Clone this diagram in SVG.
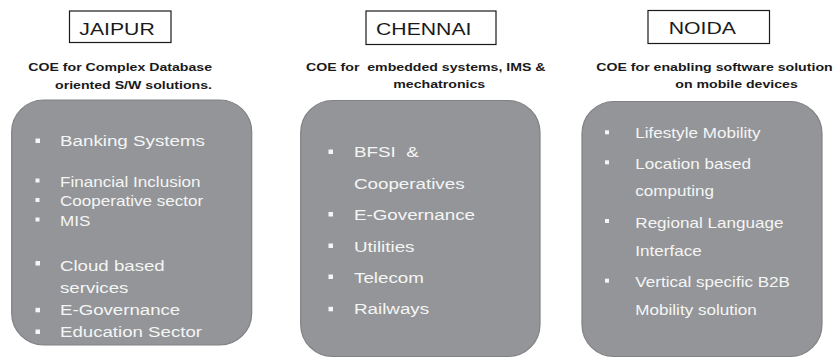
<svg xmlns="http://www.w3.org/2000/svg" width="837" height="358" viewBox="0 0 837 358">
<style>
text{font-family:"Liberation Sans",Arial,sans-serif;white-space:pre}
.title{font-size:17.4px;fill:#1a1a1a}
.tbox{fill:#fff;stroke:#1a1a1a;stroke-width:1.2}
.sub{font-size:11.6px;font-weight:bold;fill:#1a1a1a}
.panel{fill:#939598;stroke:#808184;stroke-width:1.2}
.it{fill:#f5f5f5}
.bul{fill:#f5f5f5}
</style>
<rect width="837" height="358" fill="#fff"/>
<g id="jaipur">
<rect class="tbox" x="69.5" y="11" width="101.5" height="31.5"/>
<text class="title" transform="translate(79.3 35) scale(1.22 1)">JAIPUR</text>
<text class="sub" transform="translate(28.3 71) scale(1.22 1)">COE for Complex Database</text>
<text class="sub" transform="translate(55 89) scale(1.22 1)">oriented S/W solutions.</text>
<rect class="panel" x="11.7" y="100" width="240" height="245" rx="32" ry="32"/>
<g class="it" style="font-size:15.4px">
<text transform="translate(60 146) scale(1.22 1)">Banking Systems</text>
</g>
<g class="it" style="font-size:14px">
<text transform="translate(60 186.5) scale(1.22 1)">Financial Inclusion</text>
<text transform="translate(60 206) scale(1.22 1)">Cooperative sector</text>
<text transform="translate(60 225.5) scale(1.22 1)">MIS</text>
</g>
<g class="it" style="font-size:15.3px">
<text transform="translate(60 270.5) scale(1.22 1)">Cloud based</text>
<text transform="translate(60 292.5) scale(1.22 1)">services</text>
<text transform="translate(60 315) scale(1.22 1)">E-Governance</text>
<text transform="translate(60 336.7) scale(1.22 1)">Education Sector</text>
</g>
<rect class="bul" x="35.5" y="138.5" width="4.5" height="4.5"/>
<rect class="bul" x="35.5" y="178.5" width="4" height="4"/>
<rect class="bul" x="35.5" y="198" width="4" height="4"/>
<rect class="bul" x="35.5" y="217.5" width="4" height="4"/>
<rect class="bul" x="35.5" y="261" width="4.5" height="4.5"/>
<rect class="bul" x="35.5" y="307.8" width="4.5" height="4.5"/>
<rect class="bul" x="35.5" y="329.5" width="4.5" height="4.5"/>
</g>
<g id="chennai">
<rect class="tbox" x="366" y="11" width="130" height="33.5"/>
<text class="title" transform="translate(376 35) scale(1.22 1)">CHENNAI</text>
<text class="sub" transform="translate(306 71) scale(1.22 1)">COE for  embedded systems, IMS &amp;</text>
<text class="sub" transform="translate(393.3 87.5) scale(1.22 1)">mechatronics</text>
<rect class="panel" x="300.7" y="100.5" width="239.3" height="256" rx="32" ry="32"/>
<g class="it" style="font-size:15.4px">
<text transform="translate(354 156.7) scale(1.22 1)">BFSI  &amp;</text>
<text transform="translate(354 189) scale(1.22 1)">Cooperatives</text>
<text transform="translate(354 220) scale(1.22 1)">E-Governance</text>
<text transform="translate(354 251.7) scale(1.22 1)">Utilities</text>
<text transform="translate(354 283.3) scale(1.22 1)">Telecom</text>
<text transform="translate(354 314) scale(1.22 1)">Railways</text>
</g>
<rect class="bul" x="328.5" y="149.5" width="4.5" height="4.5"/>
<rect class="bul" x="328.5" y="212" width="4.5" height="4.5"/>
<rect class="bul" x="328.5" y="243.5" width="4.5" height="4.5"/>
<rect class="bul" x="328.5" y="274.5" width="4.5" height="4.5"/>
<rect class="bul" x="328.5" y="306.8" width="4.5" height="4.5"/>
</g>
<g id="noida">
<rect class="tbox" x="648" y="10.5" width="121.5" height="33"/>
<text class="title" transform="translate(668.7 34.3) scale(1.22 1)">NOIDA</text>
<text class="sub" transform="translate(596.3 70.7) scale(1.22 1)">COE for enabling software solution</text>
<text class="sub" transform="translate(675.3 88.3) scale(1.22 1)">on mobile devices</text>
<rect class="panel" x="582" y="101.5" width="240" height="255" rx="32" ry="32"/>
<g class="it" style="font-size:14px">
<text transform="translate(635.3 138.3) scale(1.22 1)">Lifestyle Mobility</text>
<text transform="translate(635.3 169.3) scale(1.22 1)">Location based</text>
<text transform="translate(635.3 196) scale(1.22 1)">computing</text>
<text transform="translate(635.3 228.3) scale(1.22 1)">Regional Language</text>
<text transform="translate(635.3 255.7) scale(1.22 1)">Interface</text>
<text transform="translate(635.3 287.3) scale(1.22 1)">Vertical specific B2B</text>
<text transform="translate(635.3 315) scale(1.22 1)">Mobility solution</text>
</g>
<rect class="bul" x="605" y="130.3" width="4" height="4"/>
<rect class="bul" x="605" y="160.3" width="4" height="4"/>
<rect class="bul" x="605" y="219" width="4" height="4"/>
<rect class="bul" x="605" y="278.7" width="4" height="4"/>
</g>
<g id="connectors"></g>
</svg>
